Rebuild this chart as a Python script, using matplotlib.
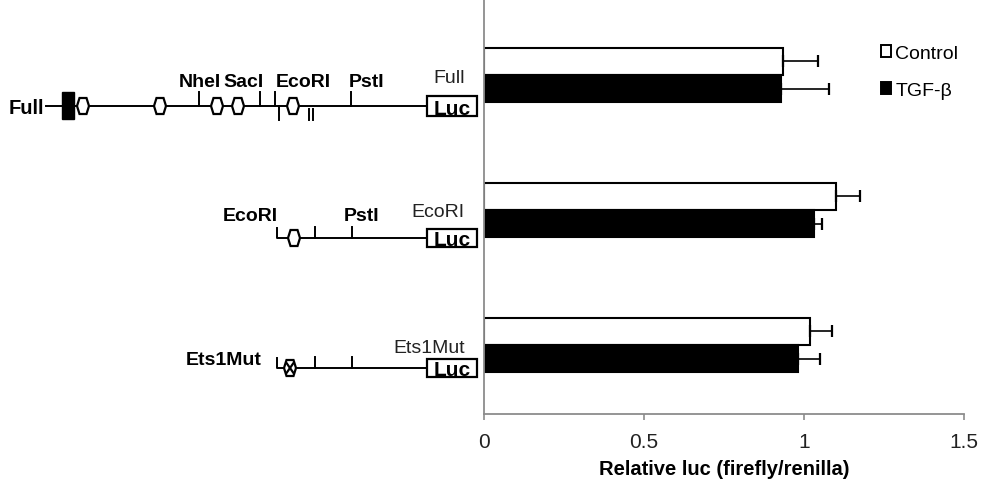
"""Luciferase reporter assay: promoter constructs with relative luc activity."""

import matplotlib
matplotlib.use("Agg")
import matplotlib.pyplot as plt
from matplotlib.patches import Rectangle, Polygon, Patch

plt.rcParams['font.family'] = ['Liberation Sans', 'DejaVu Sans']

# data
constructs = ['Full', 'EcoRI', 'Ets1Mut']
control = [0.935, 1.10, 1.02]
control_err = [0.109, 0.075, 0.068]
tgf = [0.928, 1.031, 0.98]
tgf_err = [0.15, 0.025, 0.07]
series_labels = ['Control', 'TGF-\u03b2']
xticks = [0, 0.5, 1, 1.5]
xtick_labels = ['0', '0.5', '1', '1.5']

W, H = 983, 485
fig = plt.figure(figsize=(W / 100, H / 100), dpi=100)

# bar chart
ax = fig.add_axes([484 / W, 1 - 415 / H, (964 - 484) / W, 415 / H])
ypos = [2, 1, 0]
bh = 0.203
ctrl_y = [y + bh / 2 for y in ypos]
tgf_y = [y - bh / 2 for y in ypos]
ax.barh(ctrl_y, control, height=bh, color='white', edgecolor='black', linewidth=1.5)
ax.barh(tgf_y, tgf, height=bh, color='black', edgecolor='black', linewidth=1.5)
ax.errorbar(control, ctrl_y, xerr=[[0] * 3, control_err], fmt='none',
            ecolor='black', elinewidth=1.2, capsize=4.5, capthick=1.6)
ax.errorbar(tgf, tgf_y, xerr=[[0] * 3, tgf_err], fmt='none',
            ecolor='black', elinewidth=1.2, capsize=4.5, capthick=1.6)

ax.set_xlim(0, 1.5)
ax.set_ylim(-0.511, 346 / 135)
ax.set_xticks(xticks)
ax.set_xticklabels(xtick_labels, fontsize=15, color='#222222')
ax.set_yticks([])
ax.tick_params(axis='x', direction='out', length=4, width=1.2, color='#8c8c8c', pad=9)
for s in ['top', 'right']:
    ax.spines[s].set_visible(False)
for s in ['left', 'bottom']:
    ax.spines[s].set_color('#8c8c8c')
    ax.spines[s].set_linewidth(1.3)
ax.set_xlabel('Relative luc (firefly/renilla)', fontsize=14.5, fontweight='bold', labelpad=6)

handles = [Patch(facecolor='white', edgecolor='black', linewidth=1.4),
           Patch(facecolor='black', edgecolor='black', linewidth=1.4)]
fig.legend(handles, series_labels, loc='upper left', bbox_to_anchor=(871 / W, 1 - 36 / H),
           frameon=False, fontsize=14, handlelength=0.55, handleheight=0.55,
           handletextpad=0.2, labelspacing=1.05, borderpad=0)

# schematic of constructs, drawn in figure pixel coordinates
sch = fig.add_axes([0, 0, 1, 1], zorder=-1)
sch.set_xlim(0, W)
sch.set_ylim(H, 0)
sch.axis('off')
lw = 1.4


def hexagon(x, y, mutated=False):
    pts = [(x - 6, y), (x - 3.5, y - 8), (x + 3.5, y - 8), (x + 6, y),
           (x + 3.5, y + 8), (x - 3.5, y + 8)]
    sch.add_patch(Polygon(pts, closed=True, facecolor='white', edgecolor='black',
                          linewidth=lw + 0.2, zorder=3))
    if mutated:
        sch.plot([x - 3.5, x + 3.5], [y - 5, y + 5], color='black', lw=1.6, zorder=4)
        sch.plot([x - 3.5, x + 3.5], [y + 5, y - 5], color='black', lw=1.6, zorder=4)


def luc_box(y0, y1, baseline):
    sch.add_patch(Rectangle((427, y0), 50, y1 - y0, facecolor='white',
                            edgecolor='black', linewidth=lw + 0.2, zorder=3))
    sch.text(452, baseline, 'Luc', ha='center', va='baseline', fontsize=15,
             fontweight='bold', zorder=4)


def tick(x, y0, y1):
    sch.plot([x, x], [y0, y1], color='black', lw=lw)


# Full construct
y = 107
sch.plot([46, 427], [y, y], color='black', lw=lw)
sch.add_patch(Rectangle((62, 93), 12, 27, facecolor='black', edgecolor='black', zorder=3))
for hx in [83, 160, 217, 238, 293]:
    hexagon(hx, y)
for tx in [199, 260, 275, 351]:
    tick(tx, 93, y)
tick(279, y, 121)
tick(309, 110, 121)
tick(313, 110, 121)
sch.text(9, 114, 'Full', ha='left', va='baseline', fontsize=14.5, fontweight='bold')
for lx, name in [(200, 'NheI'), (243, 'SacI'), (303, 'EcoRI'), (367, 'PstI')]:
    sch.text(lx, 87, name, ha='center', va='baseline', fontsize=14, fontweight='bold')
sch.text(449, 83, 'Full', ha='center', va='baseline', fontsize=14, color='#222222')
luc_box(97, 117, 115)

# EcoRI construct
y = 239
sch.plot([277, 277, 427], [229, y, y], color='black', lw=lw)
hexagon(294, y)
tick(315, 228, y)
tick(352, 228, y)
sch.text(250, 221, 'EcoRI', ha='center', va='baseline', fontsize=14, fontweight='bold')
sch.text(362, 221, 'PstI', ha='center', va='baseline', fontsize=14, fontweight='bold')
sch.text(438, 217, 'EcoRI', ha='center', va='baseline', fontsize=14, color='#222222')
luc_box(230, 248, 246)

# Ets1Mut construct
y = 369
sch.plot([277, 277, 427], [359, y, y], color='black', lw=lw)
hexagon(290, y, mutated=True)
tick(315, 358, y)
tick(352, 358, y)
sch.text(262, 365, 'Ets1Mut', ha='right', va='baseline', fontsize=14, fontweight='bold')
sch.text(429, 353, 'Ets1Mut', ha='center', va='baseline', fontsize=14, color='#222222')
luc_box(360, 378, 376)

fig.savefig('out.png', dpi=100)
